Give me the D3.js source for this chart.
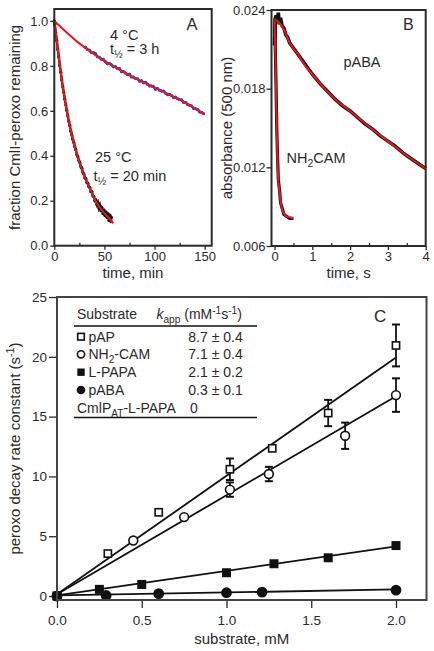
<!DOCTYPE html>
<html><head><meta charset="utf-8">
<script src="https://cdn.jsdelivr.net/npm/d3@7"></script>
<style>
body{margin:0;background:#fff}
svg{display:block}
text{font-family:"Liberation Sans",Arial,Helvetica,sans-serif;fill:#2a2a2a}
</style>
</head><body>
<svg id="chart" width="434" height="651"></svg>
<script>
// ---------------- Panel A data ----------------
const aXTicks = [0, 50, 100, 150];
const aXMinor = [25, 75, 125];
const aYTicks = [0, 0.2, 0.4, 0.6, 0.8, 1.0];
// 4 °C data (blue) [time min, fraction]
const cold4Data = [[0,1.0],[31,0.884],[33,0.873],[35,0.870],[37,0.859],[39,0.859],[41,0.855],[43,0.841],[45,0.838],[47,0.829],[49,0.829],[51,0.818],[53,0.809],[55,0.811],[57,0.805],[59,0.796],[61,0.797],[63,0.788],[65,0.788],[67,0.774],[69,0.775],[71,0.768],[73,0.761],[75,0.763],[77,0.751],[79,0.750],[81,0.744],[83,0.743],[85,0.732],[87,0.734],[89,0.725],[91,0.727],[93,0.718],[95,0.711],[97,0.711],[99,0.708],[101,0.696],[103,0.699],[105,0.691],[107,0.688],[109,0.688],[111,0.678],[113,0.672],[115,0.673],[117,0.668],[119,0.659],[121,0.661],[123,0.654],[125,0.649],[127,0.649],[129,0.637],[131,0.637],[133,0.628],[135,0.625],[137,0.622],[139,0.610],[141,0.609],[143,0.606],[145,0.595],[147,0.594],[149,0.587]];
const cold4Fit = [[0,1.0],[25,0.9],[50,0.822],[75,0.758],[100,0.703],[125,0.65],[150,0.585]];
// 25 °C data (black)
const warm25Data = [[0,1.0],[0.5,0.985],[1.5,0.946],[2.5,0.913],[3.5,0.873],[4.5,0.840],[5.5,0.801],[6.5,0.772],[7.5,0.737],[8.5,0.706],[9.5,0.681],[10.5,0.652],[11.5,0.626],[12.5,0.602],[13.5,0.577],[14.5,0.553],[15.5,0.535],[16.5,0.509],[17.5,0.493],[18.5,0.473],[19.5,0.459],[20.5,0.440],[21.5,0.427],[22.5,0.405],[23.5,0.396],[24.5,0.379],[25.5,0.370],[26.5,0.352],[27.5,0.345],[28.5,0.326],[29.5,0.318],[30.5,0.302],[31.5,0.298],[32.5,0.281],[33.5,0.278],[34.5,0.262],[35.5,0.259],[36.5,0.240],[37.5,0.240],[38.5,0.221],[39.5,0.219],[40.5,0.200],[41.5,0.203],[42.5,0.183],[43.5,0.192],[44.5,0.168],[45.5,0.180],[46.5,0.155],[47.5,0.170],[48.5,0.143],[49.5,0.160],[50.5,0.134],[51.5,0.151],[52.5,0.125],[53.5,0.143],[54.5,0.112],[55.5,0.136],[56.5,0.107],[57.0,0.126]];
const warm25Fit = [[0,1.0],[2,0.93],[5,0.82],[8,0.72],[12.5,0.6],[17,0.5],[23,0.4],[30,0.31],[35,0.26],[41,0.2],[47,0.16],[53,0.13],[59,0.10]];

// ---------------- Panel B data ----------------
const bXTicks = [0, 1, 2, 3, 4];
const bXMinor = [0.5, 1.5, 2.5, 3.5];
const bYTicks = [0.006, 0.012, 0.018, 0.024];
const pabaData = [[0,0.0213],[0.02,0.0228],[0.04,0.0236],[0.07,0.0231],[0.1,0.0238],[0.13,0.0229],[0.16,0.0234],[0.2,0.0228],[0.25,0.0226],[0.3,0.0221],[0.35,0.0219],[0.4,0.0215],[0.6,0.0207],[0.8,0.0199],[1.0,0.0191],[1.2,0.0184],[1.4,0.0178],[1.6,0.0172],[1.8,0.0167],[2.0,0.0163],[2.2,0.0158],[2.4,0.0153],[2.6,0.0149],[2.8,0.0144],[3.0,0.0140],[3.2,0.0136],[3.4,0.0131],[3.6,0.0127],[3.8,0.0123],[4.0,0.0119]];
const pabaFit = [[0,0.0233],[0.1,0.0231],[0.25,0.0225],[0.4,0.0215],[0.6,0.0207],[0.8,0.0198],[1.0,0.0191],[1.33,0.0180],[1.6,0.0172],[2.0,0.0163],[2.5,0.0151],[3.0,0.0140],[3.5,0.0129],[4.0,0.0119]];
const nh2camData = [[0,0.0222],[0.01,0.0234],[0.02,0.0212],[0.04,0.0183],[0.06,0.0149],[0.08,0.0128],[0.1,0.0111],[0.13,0.0103],[0.16,0.0093],[0.2,0.0089],[0.25,0.0084],[0.3,0.0083],[0.4,0.0081],[0.5,0.0081]];
const nh2camFit = [[0,0.0232],[0.02,0.0210],[0.04,0.0180],[0.06,0.0148],[0.08,0.0125],[0.10,0.0110],[0.13,0.0102],[0.16,0.0094],[0.2,0.0088],[0.25,0.0085],[0.3,0.0083],[0.4,0.0082],[0.5,0.0081]];

// ---------------- Panel C data ----------------
const cXTicks = [0, 0.5, 1.0, 1.5, 2.0];
const cYTicks = [0, 5, 10, 15, 20, 25];
const papX = [0, 0.3, 0.6, 1.02, 1.27, 1.6, 2.0];
const papY = [0, 3.55, 7.0, 10.6, 12.35, 15.3, 20.95];
const papErr = [0, 0, 0, 0.9, 0, 1.1, 1.75];
const papFit = [[0, 0.15], [2.0, 19.95]];
const camX = [0, 0.45, 0.75, 1.02, 1.25, 1.7, 2.0];
const camY = [0, 4.64, 6.6, 8.9, 10.2, 13.4, 16.8];
const camErr = [0, 0, 0, 0.6, 0.6, 1.1, 1.4];
const camFit = [[0, 0.15], [2.0, 16.7]];
const lpapaX = [0, 0.25, 0.5, 1.0, 1.28, 1.6, 2.0];
const lpapaY = [0, 0.56, 0.97, 1.95, 2.7, 3.2, 4.22];
const lpapaFit = [[0, 0.05], [2.0, 4.15]];
const pabaX = [0, 0.29, 0.6, 1.0, 1.21, 2.0];
const pabaY = [0, 0.05, 0.2, 0.28, 0.33, 0.5];
const pabaFitC = [[0, 0.05], [2.0, 0.55]];
const legendValues = ["8.7 \u00b1 0.4", "7.1 \u00b1 0.4", "2.1 \u00b1 0.2", "0.3 \u00b1 0.1", "0"];

// ---------------- drawing ----------------
const svg = d3.select('#chart');
const RED = '#e3191e', BLUE = '#2e3fd8', INK = '#2a2a2a';
const FONT = '"Liberation Sans",Arial,Helvetica,sans-serif';

function rich(sel, parts, base) {
  parts.forEach((p, i) => {
    const t = sel.append('tspan').text(p.t);
    if (p.it) t.attr('font-style', 'italic');
    if (p.sub) { t.attr('font-size', base * 0.72).attr('dy', base * 0.28); }
    else if (p.sup) { t.attr('font-size', base * 0.72).attr('dy', -base * 0.38); }
    const prev = parts[i - 1];
    if (prev && !p.sub && !p.sup) {
      if (prev.sub) t.attr('dy', -base * 0.28);
      if (prev.sup) t.attr('dy', base * 0.38);
    }
  });
  return sel;
}
function styleAxis(g, fs) {
  g.attr('font-family', FONT).attr('font-size', fs).attr('color', INK);
  g.select('.domain').remove();
  g.selectAll('line').attr('stroke-width', 1.3);
  g.selectAll('text').attr('fill', INK);
}
const line = (xs, ys) => d3.line().x(d => xs(d[0])).y(d => ys(d[1]));

// ---- Panel A ----
const xA = d3.scaleLinear([0, 157], [54.3, 211.7]);
const yA = d3.scaleLinear([0, 1.053], [245.7, 9]);
const gA = svg.append('g');
gA.append('g').attr('transform', `translate(0,${yA(0)})`)
  .call(d3.axisBottom(xA).tickValues(aXTicks).tickSize(4).tickPadding(2).tickFormat(d3.format('d')))
  .call(g => styleAxis(g, 13));
gA.append('g').attr('transform', `translate(0,${yA(0)})`)
  .call(d3.axisBottom(xA).tickValues(aXMinor).tickSize(-3).tickFormat(''))
  .call(g => styleAxis(g, 13));
gA.append('g').attr('transform', `translate(${xA(0)},0)`)
  .call(d3.axisLeft(yA).tickValues(aYTicks).tickSize(4).tickPadding(2).tickFormat(d3.format('.1f')))
  .call(g => styleAxis(g, 13));
gA.append('path').datum(cold4Data.slice(1)).attr('d', line(xA, yA)).attr('fill', 'none').attr('stroke', BLUE).attr('stroke-width', 2.6);
gA.selectAll('.b4').data(cold4Data).join('circle').attr('cx', d => xA(d[0])).attr('cy', d => yA(d[1])).attr('r', 1.5).attr('fill', BLUE);
gA.append('path').datum(warm25Data).attr('d', line(xA, yA)).attr('fill', 'none').attr('stroke', '#111').attr('stroke-width', 2.4);
gA.selectAll('.k25').data(warm25Data).join('circle').attr('cx', d => xA(d[0])).attr('cy', d => yA(d[1])).attr('r', 1.6).attr('fill', '#111');
gA.append('path').datum(cold4Fit).attr('d', line(xA, yA).curve(d3.curveMonotoneX)).attr('fill', 'none').attr('stroke', RED).attr('stroke-width', 2);
gA.append('path').datum(warm25Fit).attr('d', line(xA, yA).curve(d3.curveMonotoneX)).attr('fill', 'none').attr('stroke', RED).attr('stroke-width', 2);
gA.append('rect').attr('x', xA(0)).attr('y', yA(1.053)).attr('width', xA(157) - xA(0)).attr('height', yA(0) - yA(1.053))
  .attr('fill', 'none').attr('stroke', INK).attr('stroke-width', 2);
gA.append('text').attr('x', 110).attr('y', 39.5).attr('font-size', 14.5).text('4 \u00b0C');
rich(gA.append('text').attr('x', 110).attr('y', 54).attr('font-size', 14.5), [{t: 't'}, {t: '\u00bd', sub: true}, {t: ' = 3 h'}], 14.5);
gA.append('text').attr('x', 95).attr('y', 161.7).attr('font-size', 14.5).text('25 \u00b0C');
rich(gA.append('text').attr('x', 93.5).attr('y', 180.5).attr('font-size', 14.5), [{t: 't'}, {t: '\u00bd', sub: true}, {t: ' = 20 min'}], 14.5);
gA.append('text').attr('x', 186.5).attr('y', 30).attr('font-size', 16.5).text('A');
gA.append('text').attr('x', (xA(0) + xA(157)) / 2).attr('y', 278).attr('text-anchor', 'middle').attr('font-size', 15).text('time, min');
gA.append('text').attr('transform', `translate(20,${(yA(0) + yA(1.053)) / 2}) rotate(-90)`).attr('text-anchor', 'middle').attr('font-size', 15).text('fraction CmlI-peroxo remaining');

// ---- Panel B ----
const xB = d3.scaleLinear([-0.08, 4], [271.5, 425.7]);
const yB = d3.scaleLinear([0.006, 0.024], [246, 10]);
const gB = svg.append('g');
gB.append('g').attr('transform', `translate(0,${yB(0.006)})`)
  .call(d3.axisBottom(xB).tickValues(bXTicks).tickSize(4).tickPadding(2).tickFormat(d3.format('d')))
  .call(g => styleAxis(g, 13));
gB.append('g').attr('transform', `translate(0,${yB(0.006)})`)
  .call(d3.axisBottom(xB).tickValues(bXMinor).tickSize(-3).tickFormat(''))
  .call(g => styleAxis(g, 13));
gB.append('g').attr('transform', `translate(${xB(-0.08)},0)`)
  .call(d3.axisLeft(yB).tickValues(bYTicks).tickSize(5).tickPadding(1).tickFormat(d3.format('.3f')))
  .call(g => styleAxis(g, 13));
gB.append('path').datum(pabaData).attr('d', line(xB, yB)).attr('fill', 'none').attr('stroke', '#111').attr('stroke-width', 3.6);
gB.append('path').datum(nh2camData).attr('d', line(xB, yB)).attr('fill', 'none').attr('stroke', '#111').attr('stroke-width', 3.2);
gB.append('path').datum(pabaFit).attr('d', line(xB, yB).curve(d3.curveMonotoneX)).attr('fill', 'none').attr('stroke', RED).attr('stroke-width', 2);
gB.append('path').datum(nh2camFit).attr('d', line(xB, yB).curve(d3.curveMonotoneX)).attr('fill', 'none').attr('stroke', RED).attr('stroke-width', 2);
gB.append('rect').attr('x', xB(-0.08)).attr('y', yB(0.024)).attr('width', xB(4) - xB(-0.08)).attr('height', yB(0.006) - yB(0.024))
  .attr('fill', 'none').attr('stroke', INK).attr('stroke-width', 2);
gB.append('text').attr('x', 362).attr('y', 67).attr('text-anchor', 'middle').attr('font-size', 14.5).text('pABA');
rich(gB.append('text').attr('x', 286.5).attr('y', 163).attr('font-size', 14.5), [{t: 'NH'}, {t: '2', sub: true}, {t: 'CAM'}], 14.5);
gB.append('text').attr('x', 403).attr('y', 30).attr('font-size', 16).text('B');
gB.append('text').attr('x', (xB(-0.08) + xB(4)) / 2).attr('y', 278).attr('text-anchor', 'middle').attr('font-size', 15).text('time, s');
gB.append('text').attr('transform', `translate(232,${(yB(0.006) + yB(0.024)) / 2}) rotate(-90)`).attr('text-anchor', 'middle').attr('font-size', 15).text('absorbance (500 nm)');

// ---- Panel C ----
const xC = d3.scaleLinear([0, 2.18], [57, 426.5]);
const yC = d3.scaleLinear([-0.33, 25], [600, 297]);
const gC = svg.append('g');
gC.append('g').attr('transform', `translate(0,${yC(-0.33)})`)
  .call(d3.axisBottom(xC).tickValues(cXTicks).tickSize(8).tickPadding(7).tickFormat(d3.format('.1f')))
  .call(g => styleAxis(g, 13.5));
gC.append('g').attr('transform', `translate(${xC(0)},0)`)
  .call(d3.axisLeft(yC).tickValues(cYTicks).tickSize(8).tickPadding(2).tickFormat(d3.format('d')))
  .call(g => styleAxis(g, 13.5));
[papFit, camFit, lpapaFit, pabaFitC].forEach(f => {
  gC.append('path').datum(f).attr('d', line(xC, yC)).attr('fill', 'none').attr('stroke', '#111').attr('stroke-width', 1.8);
});
function errBars(xs, ys, es) {
  xs.forEach((x, i) => {
    if (!es[i]) return;
    const cx = xC(x), y1 = yC(ys[i] - es[i]), y2 = yC(ys[i] + es[i]);
    gC.append('line').attr('x1', cx).attr('x2', cx).attr('y1', y1).attr('y2', y2).attr('stroke', '#111').attr('stroke-width', 1.8);
    [y1, y2].forEach(yy => gC.append('line').attr('x1', cx - 4).attr('x2', cx + 4).attr('y1', yy).attr('y2', yy).attr('stroke', '#111').attr('stroke-width', 2));
  });
}
errBars(papX, papY, papErr);
errBars(camX, camY, camErr);
const pts = (xs, ys) => xs.map((x, i) => [x, ys[i]]);
gC.selectAll('.pap').data(pts(papX, papY)).join('rect')
  .attr('x', d => xC(d[0]) - 3.6).attr('y', d => yC(d[1]) - 3.6).attr('width', 7.2).attr('height', 7.2)
  .attr('fill', '#fff').attr('stroke', '#111').attr('stroke-width', 1.6);
gC.selectAll('.cam').data(pts(camX, camY)).join('circle')
  .attr('cx', d => xC(d[0])).attr('cy', d => yC(d[1])).attr('r', 4.4)
  .attr('fill', '#fff').attr('stroke', '#111').attr('stroke-width', 1.6);
gC.selectAll('.lpapa').data(pts(lpapaX, lpapaY)).join('rect')
  .attr('x', d => xC(d[0]) - 4.5).attr('y', d => yC(d[1]) - 4.5).attr('width', 9).attr('height', 9).attr('fill', '#111');
gC.selectAll('.paba').data(pts(pabaX, pabaY)).join('circle')
  .attr('cx', d => xC(d[0])).attr('cy', d => yC(d[1])).attr('r', 5.4).attr('fill', '#111');
gC.append('rect').attr('x', xC(0)).attr('y', yC(25)).attr('width', xC(2.18) - xC(0)).attr('height', yC(-0.33) - yC(25))
  .attr('fill', 'none').attr('stroke', '#444').attr('stroke-width', 2);
gC.append('text').attr('x', 374).attr('y', 321.5).attr('font-size', 17).text('C');
gC.append('text').attr('x', (xC(0) + xC(2.18)) / 2).attr('y', 644).attr('text-anchor', 'middle').attr('font-size', 15).text('substrate, mM');
rich(gC.append('text').attr('transform', `translate(20,${(yC(-0.33) + yC(25)) / 2}) rotate(-90)`).attr('text-anchor', 'middle').attr('font-size', 15),
  [{t: 'peroxo decay rate constant (s'}, {t: '-1', sup: true}, {t: ')'}], 15);

// legend table
const L = gC.append('g');
const FS = 14;
L.append('text').attr('x', 77).attr('y', 319).attr('font-size', FS).text('Substrate');
rich(L.append('text').attr('x', 156.5).attr('y', 319).attr('font-size', FS),
  [{t: 'k', it: true}, {t: 'app', sub: true}, {t: ' (mM'}, {t: '-1', sup: true}, {t: 's'}, {t: '-1', sup: true}, {t: ')'}], FS);
L.append('line').attr('x1', 74).attr('x2', 257).attr('y1', 326).attr('y2', 326).attr('stroke', '#111').attr('stroke-width', 1.6);
L.append('line').attr('x1', 74).attr('x2', 257).attr('y1', 417.5).attr('y2', 417.5).attr('stroke', '#111').attr('stroke-width', 1.6);
const rowY = [341.7, 359.3, 377.2, 395, 412.8];
const mx = 81;
L.append('rect').attr('x', mx - 3.3).attr('y', rowY[0] - 8.3).attr('width', 6.6).attr('height', 6.6).attr('fill', '#fff').attr('stroke', '#111').attr('stroke-width', 1.6);
L.append('circle').attr('cx', mx).attr('cy', rowY[1] - 5).attr('r', 3.6).attr('fill', '#fff').attr('stroke', '#111').attr('stroke-width', 1.6);
L.append('rect').attr('x', mx - 3.7).attr('y', rowY[2] - 8.7).attr('width', 7.4).attr('height', 7.4).attr('fill', '#111');
L.append('circle').attr('cx', mx).attr('cy', rowY[3] - 5).attr('r', 4.3).attr('fill', '#111');
L.append('text').attr('x', 88.5).attr('y', rowY[0]).attr('font-size', FS).text('pAP');
rich(L.append('text').attr('x', 88.5).attr('y', rowY[1]).attr('font-size', FS), [{t: 'NH'}, {t: '2', sub: true}, {t: '-CAM'}], FS);
L.append('text').attr('x', 88.5).attr('y', rowY[2]).attr('font-size', FS).text('L-PAPA');
L.append('text').attr('x', 88.5).attr('y', rowY[3]).attr('font-size', FS).text('pABA');
rich(L.append('text').attr('x', 77).attr('y', rowY[4]).attr('font-size', FS), [{t: 'CmlP'}, {t: 'AT', sub: true}, {t: '-L-PAPA'}], FS);
legendValues.forEach((v, i) => {
  L.append('text').attr('x', i === 4 ? 190 : 188.3).attr('y', rowY[i]).attr('font-size', FS).text(v);
});
</script>
</body></html>
